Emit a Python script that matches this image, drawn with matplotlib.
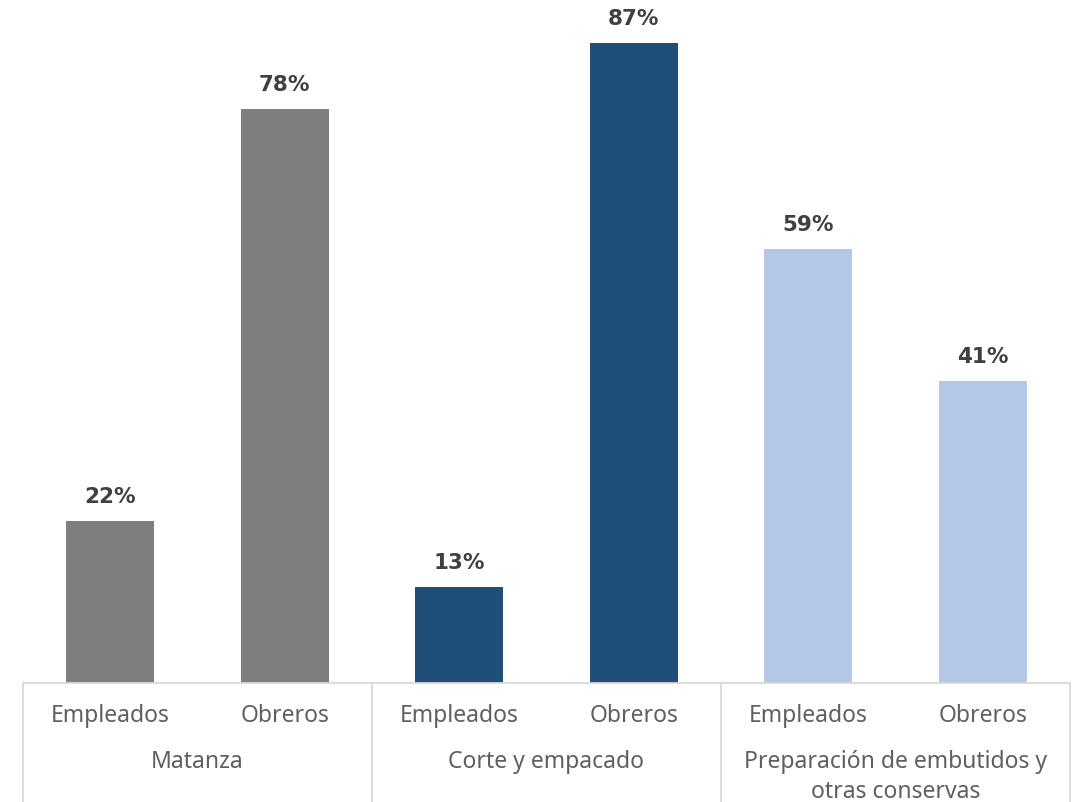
import numpy as np
import matplotlib.pyplot as plt

# Data
groups = ['Matanza', 'Corte y empacado', 'Preparación de embutidos y\notras conservas']
subcats = ['Empleados', 'Obreros']
values = [22, 78, 13, 87, 59, 41]
colors = ['#7F7F7F', '#7F7F7F', '#1F4E79', '#1F4E79', '#B4C7E7', '#B4C7E7']

plt.rcParams['font.family'] = ['Noto Sans', 'DejaVu Sans']

fig = plt.figure(figsize=(10.76, 8.03), dpi=100)
ax = fig.add_axes([23 / 1076, 119 / 803, 1047 / 1076, 684 / 803])

x = np.arange(len(values))
ax.bar(x, values, width=0.505, color=colors)

# Value labels
for xi, v in zip(x, values):
    ax.annotate(f"{v}%", (xi, v), xytext=(0, 11), textcoords='offset points',
                ha='center', va='bottom', fontsize=15.5, fontweight='bold',
                family='DejaVu Sans', color='#404040', annotation_clip=False)

ax.set_xlim(-0.5, len(values) - 0.5)
ax.set_ylim(0, 93)

for s in ['top', 'right', 'left']:
    ax.spines[s].set_visible(False)
ax.spines['bottom'].set_color('#D9D9D9')
ax.spines['bottom'].set_linewidth(1.3)
ax.set_yticks([])
ax.set_xticks([])

trans = ax.get_xaxis_transform()

# Sub-category labels
for xi in x:
    ax.text(xi, -0.047, subcats[xi % 2], transform=trans, ha='center', va='center',
            fontsize=16.5, color='#5f5f5f')

# Group labels
for gi, g in enumerate(groups):
    ax.text(gi * 2 + 0.5, -0.097, g, transform=trans, ha='center', va='top',
            fontsize=16.5, color='#5f5f5f', linespacing=1.3)

# Group separators
for sx in np.arange(-0.5, len(values), 2):
    ax.plot([sx, sx], [0, -0.18], transform=trans, color='#D9D9D9', lw=1.3, clip_on=False)

plt.savefig('out.png', dpi=100)
